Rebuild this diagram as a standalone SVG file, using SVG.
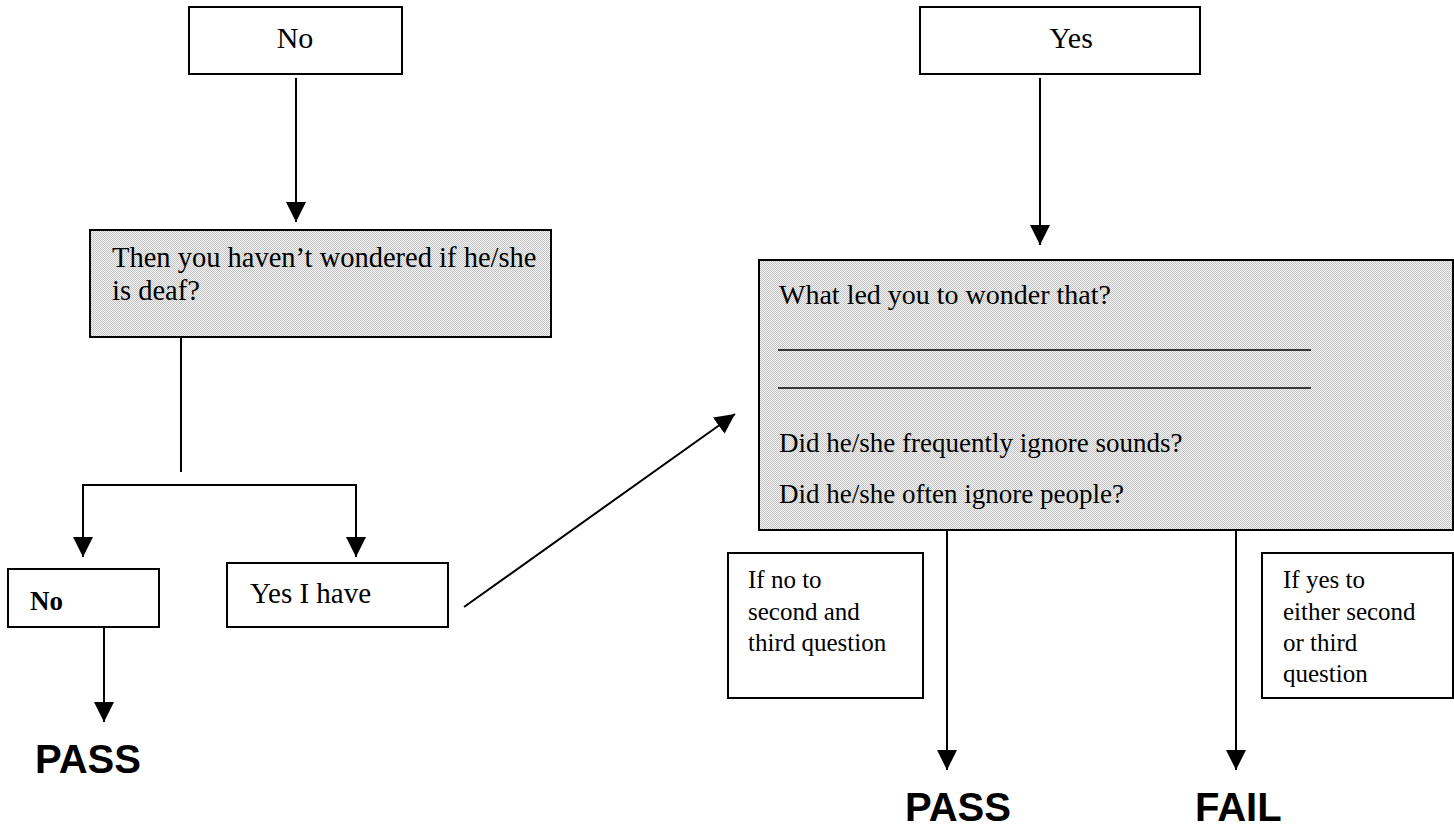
<svg xmlns="http://www.w3.org/2000/svg" width="1454" height="829" viewBox="0 0 1454 829">
<defs>
<pattern id="dots" width="2" height="2" patternUnits="userSpaceOnUse">
<rect width="2" height="2" fill="#f4f4f4"/>
<rect width="1" height="1" fill="#c4c4c4"/>
<rect x="1" y="1" width="1" height="1" fill="#c4c4c4"/>
</pattern>
<marker id="ah" markerUnits="userSpaceOnUse" markerWidth="20" markerHeight="20" refX="20" refY="10" orient="auto">
<path d="M0,0 L20,10 L0,20 z" fill="#000"/>
</marker>
<style>
.box{fill:#fff;stroke:#000;stroke-width:2}
.gbox{fill:url(#dots);stroke:#000;stroke-width:2}
.t{font-family:"Liberation Serif","Times New Roman",serif;fill:#000}
.big{font-family:"Liberation Sans",Arial,sans-serif;font-weight:bold;font-size:40px;fill:#000}
.c{stroke:#000;stroke-width:2;fill:none}
</style>
</defs>
<rect width="1454" height="829" fill="#fff"/>
<g id="no-top">
<rect class="box" x="189" y="7" width="213" height="67"/>
<text class="t" x="295" y="48" font-size="30" text-anchor="middle">No</text>
</g>
<g id="yes-top">
<rect class="box" x="920" y="7" width="280" height="67"/>
<text class="t" x="1071" y="48" font-size="30" text-anchor="middle">Yes</text>
</g>
<g id="q-deaf">
<rect class="gbox" x="90" y="230" width="461" height="107"/>
<text class="t" x="112" y="267" font-size="28.5">Then you haven’t wondered if he/she</text>
<text class="t" x="112" y="300" font-size="28.5">is deaf?</text>
</g>
<g id="q-wonder">
<rect class="gbox" x="759" y="260" width="694" height="270"/>
<text class="t" x="779" y="304" font-size="28">What led you to wonder that?</text>
<line x1="778" y1="350" x2="1311" y2="350" stroke="#000" stroke-width="1.5"/>
<line x1="778" y1="388" x2="1311" y2="388" stroke="#000" stroke-width="1.5"/>
<text class="t" x="779" y="452" font-size="27">Did he/she frequently ignore sounds?</text>
<text class="t" x="779" y="503" font-size="27">Did he/she often ignore people?</text>
</g>
<g id="no-bold">
<rect class="box" x="8" y="569" width="151" height="58"/>
<text class="t" x="30" y="610" font-size="27" font-weight="bold">No</text>
</g>
<g id="yes-i-have">
<rect class="box" x="227" y="563" width="221" height="64"/>
<text class="t" x="250" y="603" font-size="29">Yes I have</text>
</g>
<g id="cond-no">
<rect class="box" x="728" y="553" width="195" height="145"/>
<text class="t" x="748" y="588" font-size="25">If no to</text>
<text class="t" x="748" y="620" font-size="25">second and</text>
<text class="t" x="748" y="651" font-size="25">third question</text>
</g>
<g id="cond-yes">
<rect class="box" x="1262" y="553" width="191" height="145"/>
<text class="t" x="1283" y="588" font-size="25">If yes to</text>
<text class="t" x="1283" y="620" font-size="25">either second</text>
<text class="t" x="1283" y="651" font-size="25">or third</text>
<text class="t" x="1283" y="682" font-size="25">question</text>
</g>
<g id="pass-left"><text class="big" x="35" y="773">PASS</text></g>
<g id="pass-right"><text class="big" x="905" y="821">PASS</text></g>
<g id="fail"><text class="big" x="1195" y="821">FAIL</text></g>
<g id="connectors">
<line class="c" x1="296" y1="78" x2="296" y2="222" marker-end="url(#ah)"/>
<line class="c" x1="1040" y1="78" x2="1040" y2="245" marker-end="url(#ah)"/>
<line class="c" x1="181" y1="337" x2="181" y2="472"/>
<polyline class="c" points="83,500 83,485 356,485 356,500"/>
<line class="c" x1="83" y1="495" x2="83" y2="557" marker-end="url(#ah)"/>
<line class="c" x1="356" y1="495" x2="356" y2="557" marker-end="url(#ah)"/>
<line class="c" x1="104" y1="627" x2="104" y2="722" marker-end="url(#ah)"/>
<line class="c" x1="464" y1="607" x2="735" y2="414" marker-end="url(#ah)"/>
<line class="c" x1="947" y1="531" x2="947" y2="770" marker-end="url(#ah)"/>
<line class="c" x1="1236" y1="531" x2="1236" y2="770" marker-end="url(#ah)"/>
</g>
</svg>
